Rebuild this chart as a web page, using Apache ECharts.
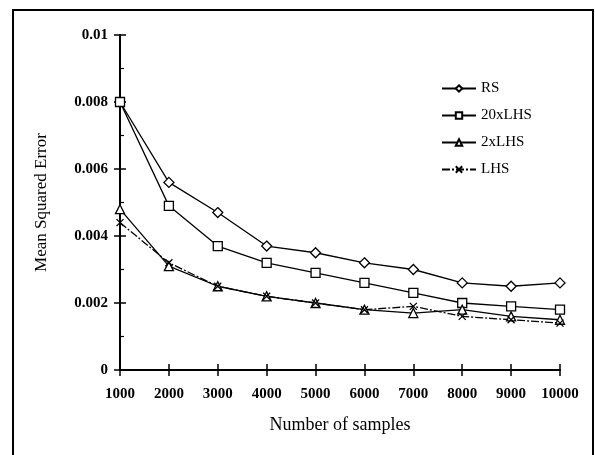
<!DOCTYPE html>
<html>
<head>
<meta charset="utf-8">
<script src="https://cdn.jsdelivr.net/npm/echarts@6/dist/echarts.min.js"></script>
<style>
  html, body { margin: 0; padding: 0; background: #fff; }
  #chart { width: 595px; height: 455px; }
</style>
</head>
<body>
<div id="chart"></div>
<script>
"use strict";

var samples = [1000, 2000, 3000, 4000, 5000, 6000, 7000, 8000, 9000, 10000];
var rs      = [0.0080, 0.0056, 0.0047, 0.0037, 0.0035, 0.0032, 0.0030, 0.0026, 0.0025, 0.0026];
var lhs20   = [0.0080, 0.0049, 0.0037, 0.0032, 0.0029, 0.0026, 0.0023, 0.0020, 0.0019, 0.0018];
var lhs2    = [0.0048, 0.0031, 0.0025, 0.0022, 0.0020, 0.0018, 0.0017, 0.0018, 0.0016, 0.0015];
var lhs     = [0.0044, 0.0032, 0.0025, 0.0022, 0.0020, 0.0018, 0.0019, 0.0016, 0.0015, 0.0014];
var yTicks  = ["0", "0.002", "0.004", "0.006", "0.008", "0.01"];

var serif = "'Liberation Serif', 'DejaVu Serif', serif";
var crossSymbol = "path://M0,0L10,10M10,0L0,10";

function pairs(values) {
  return samples.map(function (s, i) { return [s, values[i]]; });
}

function makeSeries(name, values, symbol, size, dashed) {
  return {
    name: name,
    type: "line",
    data: pairs(values),
    symbol: symbol,
    symbolSize: size,
    showAllSymbol: true,
    lineStyle: { color: "#000", width: 1.3, type: dashed ? [8, 2, 2, 2] : "solid" },
    itemStyle: { color: "#fff", borderColor: "#000", borderWidth: 1.3 },
    emphasis: { disabled: true },
    animation: false
  };
}

var tickLine = { color: "#000", width: 1.5 };

var chart = echarts.init(document.getElementById("chart"));

chart.setOption({
  backgroundColor: "#fff",
  animation: false,
  graphic: [
    {
      type: "rect",
      shape: { x: 13, y: 10, width: 580, height: 450 },
      style: { fill: "none", stroke: "#000", lineWidth: 2 }
    }
  ],
  legend: {
    orient: "vertical",
    left: 436,
    top: 76,
    itemGap: 12,
    itemWidth: 34,
    itemHeight: 8,
    textStyle: { fontFamily: serif, fontSize: 15, color: "#000" },
    data: ["RS", "20xLHS", "2xLHS", "LHS"]
  },
  grid: { left: 120, right: 35, top: 35, bottom: 85 },
  xAxis: [
    {
      type: "value",
      min: 1000,
      max: 10000,
      interval: 1000,
      name: "Number of samples",
      nameLocation: "middle",
      nameGap: 46,
      nameTextStyle: { fontFamily: serif, fontSize: 18, color: "#000" },
      axisLine: { lineStyle: { color: "#000", width: 2 } },
      axisTick: { length: 6, lineStyle: tickLine },
      axisLabel: {
        fontFamily: serif, fontSize: 15, fontWeight: "bold", color: "#000", margin: 17,
        formatter: function (v) { return String(v); }
      },
      splitLine: { show: false }
    },
    {
      type: "value",
      position: "bottom",
      min: 1000,
      max: 10000,
      interval: 1000,
      axisLine: { show: false },
      axisTick: { show: true, inside: true, length: 6, lineStyle: tickLine },
      axisLabel: { show: false },
      splitLine: { show: false }
    }
  ],
  yAxis: [
    {
      type: "value",
      min: 0,
      max: 0.01,
      interval: 0.002,
      name: "Mean Squared Error",
      nameLocation: "middle",
      nameGap: 70,
      nameTextStyle: { fontFamily: serif, fontSize: 17, color: "#000" },
      axisLine: { show: true, lineStyle: { color: "#000", width: 2 } },
      axisTick: { show: true, length: 6, lineStyle: tickLine },
      axisLabel: {
        fontFamily: serif, fontSize: 15, fontWeight: "bold", color: "#000", margin: 12,
        formatter: function (v, i) { return yTicks[i]; }
      },
      splitLine: { show: false }
    },
    {
      type: "value",
      position: "left",
      min: 0,
      max: 0.01,
      interval: 0.002,
      axisLine: { show: false },
      axisTick: { show: true, inside: true, length: 6, lineStyle: tickLine },
      minorTick: { show: true, splitNumber: 2, length: 4, lineStyle: { color: "#000", width: 1.2 } },
      axisLabel: { show: false },
      splitLine: { show: false }
    }
  ],
  series: [
    makeSeries("RS", rs, "diamond", 10, false),
    makeSeries("20xLHS", lhs20, "rect", 9, false),
    makeSeries("2xLHS", lhs2, "triangle", 9, false),
    makeSeries("LHS", lhs, crossSymbol, 7, true)
  ]
});
</script>
</body>
</html>
